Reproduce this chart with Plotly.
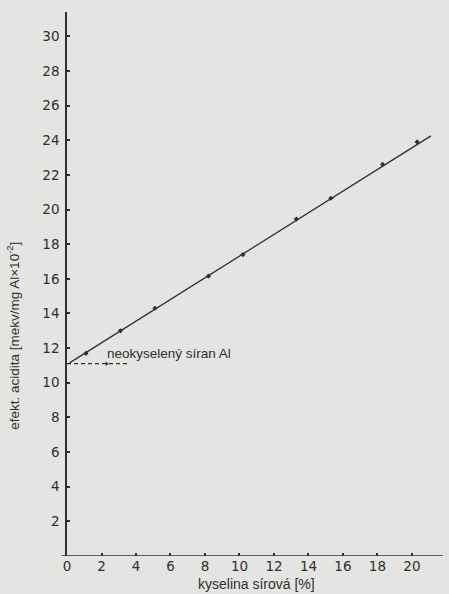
import plotly.graph_objects as go

# Measured points: effective acidity vs. sulphuric acid addition
acid_pct = [1.1, 3.1, 5.1, 8.2, 10.2, 13.3, 15.3, 18.3, 20.3]
acidity = [11.7, 13.0, 14.3, 16.15, 17.4, 19.45, 20.65, 22.6, 23.9]

# Fitted straight line (end points)
fit_x = [0.15, 21.1]
fit_y = [11.15, 24.25]

# Reference level of the unacidified aluminium sulphate
ref_x = [0, 3.5]
ref_y = [11.1, 11.1]
ref_pt_x = [2.3]
ref_pt_y = [11.1]

x_ticks = list(range(0, 21, 2))
y_ticks = list(range(2, 31, 2))

ink = "#2f2f2f"
paper = "#e4e4e2"
tick_font = dict(family="DejaVu Sans", size=13.5, color=ink)
label_font = dict(family="Liberation Sans", size=14, color=ink)

fig = go.Figure()

fig.add_trace(go.Scatter(
    x=fit_x, y=fit_y, mode="lines",
    line=dict(color=ink, width=1.3), hoverinfo="skip", showlegend=False))

fig.add_trace(go.Scatter(
    x=acid_pct, y=acidity, mode="markers",
    marker=dict(symbol="diamond", size=4, color=ink), showlegend=False))

fig.add_trace(go.Scatter(
    x=ref_x, y=ref_y, mode="lines",
    line=dict(color=ink, width=1.3, dash="4px,3px"), showlegend=False))

fig.add_trace(go.Scatter(
    x=ref_pt_x, y=ref_pt_y, mode="markers",
    marker=dict(symbol="triangle-right", size=4, color=ink), showlegend=False))

fig.add_annotation(
    x=2.2, y=11.7, xref="x", yref="y", text="neokyselený síran Al",
    showarrow=False, xanchor="left", yanchor="middle",
    font=dict(family="Liberation Sans", size=13.5, color=ink))

fig.add_annotation(
    x=10.96, y=-0.052, xref="x", yref="paper", text="kyselina sírová [%]",
    showarrow=False, xanchor="center", yanchor="middle", font=label_font)

fig.add_annotation(
    x=-0.144, y=12.7, xref="paper", yref="y",
    text="efekt. acidita [mekv/mg Al×10<sup>-2</sup>]",
    textangle=-90, showarrow=False, xanchor="center", yanchor="middle",
    font=dict(family="Liberation Sans", size=13.5, color=ink))

# x axis line runs a little past the y axis on the left
fig.add_shape(type="line", xref="paper", yref="y", x0=-0.014, x1=1.0,
              y0=0, y1=0, line=dict(color=ink, width=1.5))

fig.update_layout(
    width=449, height=594,
    margin=dict(l=67, r=6, t=12, b=38),
    paper_bgcolor=paper, plot_bgcolor=paper,
    xaxis=dict(range=[0, 21.8], tickvals=x_ticks, ticks="inside", ticklen=3,
               tickcolor=ink, tickwidth=1.5, showgrid=False, zeroline=False,
               showline=False, tickfont=tick_font),
    yaxis=dict(range=[0, 31.4], tickvals=y_ticks, ticks="inside", ticklen=3,
               tickcolor=ink, tickwidth=1.5, showgrid=False, zeroline=False,
               showline=True, linecolor=ink, linewidth=1.5,
               tickfont=tick_font, ticklabelstandoff=3),
)

fig.write_html("out.html")
